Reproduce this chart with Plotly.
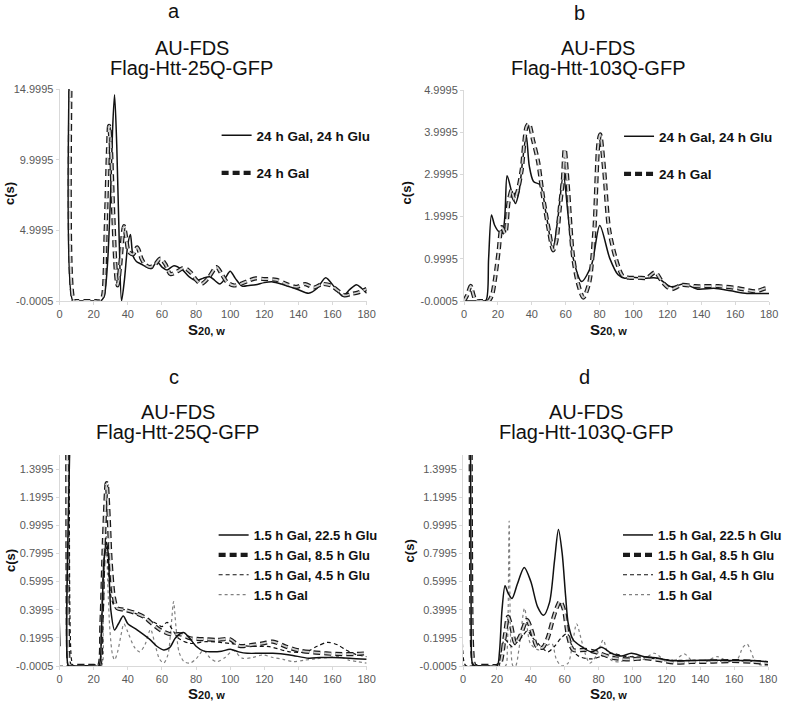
import plotly.graph_objects as go

FONT = "Liberation Sans, Arial, sans-serif"
W, H = 787, 703

# ---------------- data ----------------
x_ticks = [0, 20, 40, 60, 80, 100, 120, 140, 160, 180]
x_tick_labels = ["0", "20", "40", "60", "80", "100", "120", "140", "160", "180"]

a_yticks = [-0.0005, 4.9995, 9.9995, 14.9995]
a_ytick_labels = ["-0.0005", "4.9995", "9.9995", "14.9995"]
b_yticks = [-0.0005, 0.9995, 1.9995, 2.9995, 3.9995, 4.9995]
b_ytick_labels = ["-0.0005", "0.9995", "1.9995", "2.9995", "3.9995", "4.9995"]
cd_yticks = [-0.0005, 0.1995, 0.3995, 0.5995, 0.7995, 0.9995, 1.1995, 1.3995]
cd_ytick_labels = ["-0.0005", "0.1995", "0.3995", "0.5995", "0.7995", "0.9995", "1.1995", "1.3995"]

# panel a
a_glu_x = [7, 7.8, 10, 15, 20, 24, 26, 28, 30, 31, 32.2, 33.5, 35, 36.3, 38, 40, 41.5, 43, 45, 48,
           51, 54, 57, 60, 63, 67, 72, 76, 80, 84, 88, 91, 94, 97, 100, 103, 107, 111, 115, 120,
           125, 130, 135, 140, 146, 151, 156, 161, 166, 170, 174, 177, 180]
a_glu_y = [25, 0, 0, 0, 0, 0, 0.3, 2.5, 8, 12, 14.6, 11, 4, 0, 1.5, 4.0, 4.7, 3.2, 2.8, 2.6,
           2.4, 2.3, 2.8, 2.4, 2.2, 2.5, 2.2, 1.7, 1.45, 1.6, 1.72, 1.45, 1.2, 1.6, 2.1, 1.6, 1.05, 1.1, 1.15, 1.3,
           1.35, 1.2, 1.0, 0.8, 0.55, 0.9, 1.65, 1.0, 0.35, 0.8, 1.15, 0.9, 0.55]
a_gal_x = [7.6, 8.4, 10, 15, 20, 24, 25.5, 27, 28.3, 29, 30, 31.5, 33, 34, 35.5, 37.7, 39, 40.5, 43, 45.5,
           48, 50, 53, 56, 59, 62, 65, 69, 73, 77, 80, 83, 87, 92, 95, 98, 102, 106, 110, 115,
           120, 127, 133, 139, 144, 149, 154, 159, 163, 167, 171, 175, 180]
a_gal_y = [25, 0, 0, 0, 0, 0, 0.4, 5, 10.5, 12.4, 11, 6, 2, 1.1, 2.5, 5.3, 4.5, 3.5, 3.3, 3.8,
           3.0, 2.6, 2.4, 2.6, 3.0, 2.6, 1.9, 2.1, 2.35, 2.0, 1.5, 1.2, 1.6, 2.4, 1.9, 1.35, 1.1, 1.2, 1.4, 1.6,
           1.55, 1.5, 1.2, 1.0, 1.2, 0.95, 1.2, 1.1, 0.75, 0.4, 0.5, 0.6, 0.85]

# panel b
b_glu_x = [0, 5, 10, 13, 14.5, 16.2, 18, 20.5, 23, 25.4, 28, 30.3, 32.5, 34.5, 36.7, 38.5, 41, 45, 48.3, 52.4,
           55.5, 58.6, 61.5, 64.5, 69.4, 75.2, 80.1, 86, 90.9, 94.8, 98.7, 106.5, 114.3, 122, 130, 137.8, 147.5, 157.3, 167, 180]
b_glu_y = [0, 0, 0, 0.02, 1.0, 2.04, 1.8, 1.65, 1.7, 2.97, 2.6, 2.31, 2.6, 3.3, 3.93, 3.2, 2.83, 2.75, 2.1, 1.23,
           2.0, 3.0, 2.0, 1.0, 0.46, 0.85, 1.79, 1.01, 0.62, 0.54, 0.56, 0.54, 0.54, 0.34, 0.4, 0.28, 0.3, 0.24, 0.18, 0.18]
b_gal_x = [0, 2, 3.9, 5.5, 7, 10, 14.5, 16.6, 18.2, 20.3, 22.3, 24.3, 26.2, 28.1, 29.7, 31.6, 34, 36.9, 38.3, 40.8,
           43.7, 46.5, 50.4, 52.6, 54.4, 56.5, 58.3, 59.4, 61.2, 64.2, 67.1, 70.4, 73.9, 76.8, 79.2, 80.3, 82.7, 85.6, 89.6, 93.5,
           97.4, 103, 108, 112.8, 117, 122, 128.7, 136.5, 150, 162, 172, 178, 180]
b_gal_y = [0, 0.15, 0.36, 0.15, 0, 0, 0, 0.15, 0.5, 1.14, 1.75, 1.6, 2.32, 2.63, 2.4, 2.6, 3.1, 4.13, 4.2, 3.8,
           3.3, 2.5, 1.6, 1.2, 1.4, 2.2, 2.85, 3.6, 2.75, 1.1, 0.44, 0.08, 0.44, 1.6, 3.7, 3.95, 3.1, 1.7, 1.0, 0.6,
           0.55, 0.55, 0.55, 0.68, 0.45, 0.28, 0.38, 0.35, 0.35, 0.3, 0.23, 0.3, 0.3]

# panel c
c_g225_x = [0.2, 0.5, 4.2, 5.0, 6, 10, 15, 20, 23, 24.5, 26, 27.4, 28.5, 30, 32.2, 34.5, 37.3, 40, 45.4, 53.2,
            57, 61, 64.5, 68, 72.6, 76, 80, 84.3, 90, 95, 100, 105, 110, 118, 125, 135, 146, 153, 160, 170, 180]
c_g225_y = [0.14, 3, 3, 0.0, 0, 0, 0, 0, 0, 0.25, 0.75, 0.88, 0.8, 0.4, 0.256, 0.3, 0.355, 0.3, 0.256, 0.185,
            0.14, 0.114, 0.13, 0.2, 0.237, 0.2, 0.14, 0.107, 0.1, 0.105, 0.118, 0.1, 0.09, 0.09, 0.09, 0.078, 0.055, 0.06, 0.06, 0.055, 0.047]
c_g85_x = [4.3, 4.8, 5.2, 5.8, 7, 10, 15, 20, 23, 24.5, 26, 27.6, 28.8, 29.9, 31.8, 33.8, 37.7, 43.5, 49.3, 54.2,
           59, 64.9, 70.7, 76.5, 84.3, 92, 99.8, 105.6, 111.4, 119.2, 125, 132.8, 140.6, 150.3, 162, 173.6, 180]
c_g85_y = [3, 0.3, 0.05, 0.01, 0, 0, 0, 0, 0, 0.3, 0.9, 1.3, 1.05, 0.75, 0.49, 0.41, 0.40, 0.38, 0.35, 0.30,
           0.256, 0.225, 0.225, 0.197, 0.19, 0.185, 0.19, 0.142, 0.147, 0.16, 0.173, 0.137, 0.109, 0.095, 0.085, 0.085, 0.09]
c_g45_x = [6.3, 6.9, 8, 12, 18, 23, 24.5, 26, 27.2, 28.5, 30, 32.8, 38, 45, 52, 57, 60, 63, 66, 69.7,
           76.5, 86, 99.8, 111.4, 123, 134.8, 144.5, 151, 157, 163, 167.8, 174, 180]
c_g45_y = [3, 0.05, 0, 0, 0, 0, 0.3, 0.75, 0.85, 0.7, 0.5, 0.41, 0.4, 0.37, 0.33, 0.30, 0.28, 0.31, 0.26, 0.197,
           0.16, 0.173, 0.16, 0.14, 0.137, 0.10, 0.10, 0.14, 0.168, 0.15, 0.114, 0.08, 0.066]
c_gal_x = [0, 10, 20, 24.5, 25.5, 26.5, 27.2, 28.2, 29.5, 31, 32.2, 34, 36, 37.7, 40, 44, 47, 50, 53.3, 56,
           58.5, 61, 63.5, 65.5, 66.8, 68.2, 70, 73, 76.5, 80, 84.3, 88, 92, 97, 101.8, 107, 113, 119, 125, 131,
           137, 143, 150, 157, 164, 170, 175, 180]
c_gal_y = [0, 0, 0, 0, 0.3, 0.8, 0.95, 0.6, 0.25, 0.08, 0.043, 0.1, 0.22, 0.30, 0.24, 0.13, 0.10, 0.15, 0.26, 0.15,
           0.05, 0.02, 0.08, 0.3, 0.457, 0.28, 0.1, 0.03, 0.02, 0.05, 0.11, 0.06, 0.03, 0.06, 0.11, 0.055, 0.06, 0.078, 0.06, 0.047,
           0.03, 0.04, 0.05, 0.06, 0.066, 0.04, 0.03, 0.02]

# panel d
d_g225_x = [4.0, 4.8, 5.5, 7, 10, 15, 20.1, 21.5, 23, 24.8, 26.5, 28.9, 32, 36.1, 40, 44, 47.5, 51, 54, 56.3,
            58.5, 60.5, 62.1, 65, 70, 75.8, 81.7, 87.5, 93.4, 99.3, 107, 114.9, 122.7, 134.4, 146, 157.9, 169.6, 180]
d_g225_y = [3, 0.3, 0.02, 0, 0, 0, 0, 0.1, 0.4, 0.57, 0.52, 0.48, 0.58, 0.70, 0.6, 0.42, 0.36, 0.45, 0.75, 0.97,
            0.8, 0.5, 0.30, 0.185, 0.137, 0.10, 0.133, 0.09, 0.07, 0.09, 0.066, 0.055, 0.038, 0.038, 0.043, 0.038, 0.038, 0.03]
d_g85_x = [4.3, 5.0, 5.5, 6.2, 7, 10, 15, 20, 22, 24.5, 26.6, 28.5, 30.9, 34, 37.7, 40.5, 43.6, 47, 50, 53,
           55.5, 57.3, 59.5, 62, 65, 72, 77.8, 81.7, 89.5, 99.3, 107, 115, 124.7, 134.4, 146, 158, 170, 180]
d_g85_y = [3, 0.3, 0.1, 0.02, 0, 0, 0, 0, 0.02, 0.2, 0.35, 0.28, 0.16, 0.22, 0.327, 0.25, 0.137, 0.13, 0.2, 0.33,
           0.42, 0.46, 0.4, 0.21, 0.114, 0.114, 0.10, 0.085, 0.055, 0.047, 0.055, 0.043, 0.024, 0.028, 0.03, 0.035, 0.03, 0.02]
d_g45_x = [0.3, 0.7, 2, 8, 15, 21, 22.5, 24.5, 27, 29, 32, 35, 38, 41, 45, 50, 54, 58, 61.5, 64,
           67, 70, 76, 82, 88, 95, 105, 115, 125, 135, 150, 165, 180]
d_g45_y = [3, 0.02, 0, 0, 0, 0, 0.1, 0.19, 0.16, 0.137, 0.17, 0.21, 0.25, 0.2, 0.15, 0.10, 0.14, 0.2, 0.23, 0.15,
           0.08, 0.06, 0.05, 0.07, 0.09, 0.07, 0.06, 0.05, 0.04, 0.04, 0.035, 0.035, 0.03]
d_gal_x = [0, 10, 20, 25, 26.2, 27.2, 28.2, 29.5, 31, 33, 36.3, 39.7, 44.5, 48.5, 52.4, 55, 58, 62, 64.5, 67,
           69.5, 72, 74.8, 79, 82.7, 85, 87.5, 93, 99, 105, 113, 120, 125, 130.5, 136, 143, 150, 157, 162, 165,
           167.6, 170, 173, 180]
d_gal_y = [0, 0, 0, 0, 0.15, 1.03, 0.15, 0, 0, 0.12, 0.41, 0.16, 0.114, 0.137, 0.16, 0.05, 0, 0.02, 0.15, 0.30,
           0.2, 0.09, 0.02, 0.08, 0.185, 0.1, 0.04, 0.03, 0.07, 0.04, 0.09, 0.03, 0.04, 0.085, 0.03, 0.03, 0.066, 0.03, 0.05, 0.13,
           0.156, 0.1, 0.02, 0]

names_ab = ["24 h Gal, 24 h Glu", "24 h Gal"]
names_cd = ["1.5 h Gal, 22.5 h Glu", "1.5 h Gal, 8.5 h Glu", "1.5 h Gal, 4.5 h Glu", "1.5 h Gal"]


# ---------------- helpers ----------------
def px_x(x):
    return x / W


def px_y(y):
    return 1 - y / H


fig = go.Figure()

SOLID = dict(color="#111111", width=1.5)
OUTER = dict(color="#1a1a1a", width=4.2, dash="7px,4px")
INNER = dict(color="#cfcfcf", width=1.8, dash="7px,4px")
THIN_DASH = dict(color="#111111", width=1.2, dash="4px,3px")
DOT = dict(color="#808080", width=1.2, dash="dot")


def add(x, y, line, name, ax, legend, rank, show=True, smoothing=0.8):
    fig.add_trace(go.Scatter(x=x, y=y, mode="lines", line=dict(shape="spline", smoothing=smoothing, **line),
                             name=name, xaxis="x" + ax, yaxis="y" + ax, legend=legend, showlegend=show,
                             legendgroup=name + ax, legendrank=rank, hoverinfo="skip"))


def add_outlined(x, y, name, ax, legend, rank):
    add(x, y, OUTER, name, ax, legend, rank, show=True)
    add(x, y, INNER, name, ax, legend, rank, show=False)


# panel a (axis suffix "")
add(a_glu_x, a_glu_y, SOLID, names_ab[0], "", "legend", 1)
add_outlined(a_gal_x, a_gal_y, names_ab[1], "", "legend", 2)
# panel b
add(b_glu_x, b_glu_y, SOLID, names_ab[0], "2", "legend2", 1)
add_outlined(b_gal_x, b_gal_y, names_ab[1], "2", "legend2", 2)
# panel c
add(c_gal_x, c_gal_y, DOT, names_cd[3], "3", "legend3", 4)
add(c_g45_x, c_g45_y, THIN_DASH, names_cd[2], "3", "legend3", 3)
add_outlined(c_g85_x, c_g85_y, names_cd[1], "3", "legend3", 2)
add(c_g225_x, c_g225_y, SOLID, names_cd[0], "3", "legend3", 1)
# panel d
add(d_gal_x, d_gal_y, DOT, names_cd[3], "4", "legend4", 4)
add(d_g45_x, d_g45_y, THIN_DASH, names_cd[2], "4", "legend4", 3)
add_outlined(d_g85_x, d_g85_y, names_cd[1], "4", "legend4", 2)
add(d_g225_x, d_g225_y, SOLID, names_cd[0], "4", "legend4", 1)

tickfont = dict(family=FONT, size=11, color="#595959")


def xaxis(l, r, anchor):
    return dict(domain=[px_x(l), px_x(r)], range=[0, 180], tickvals=x_ticks, ticktext=x_tick_labels,
                showline=True, linecolor="#d9d9d9", linewidth=1, ticks="outside", ticklen=3,
                tickcolor="#d9d9d9", tickfont=tickfont, showgrid=False, zeroline=False, anchor=anchor,
                fixedrange=True, automargin=False)


def yaxis(t, b, rng, tv, tt, anchor):
    return dict(domain=[px_y(b), px_y(t)], range=rng, tickvals=tv, ticktext=tt,
                showline=True, linecolor="#d9d9d9", linewidth=1, ticks="outside", ticklen=3,
                tickcolor="#d9d9d9", tickfont=tickfont, showgrid=False, zeroline=False, anchor=anchor,
                fixedrange=True, automargin=False)


def legend(x, y, gap, size):
    return dict(x=px_x(x), y=px_y(y), xanchor="left", yanchor="top", bgcolor="rgba(0,0,0,0)",
                font=dict(family=FONT, size=size, color="#111111", weight="bold"),
                traceorder="grouped", tracegroupgap=gap, itemwidth=30, borderwidth=0)


annotations = []


def text(x, y, s, size=20, bold=False, angle=0, color="#111111"):
    annotations.append(dict(x=px_x(x), y=px_y(y), xref="paper", yref="paper", text=s, showarrow=False,
                            textangle=angle, xanchor="center", yanchor="middle",
                            font=dict(family=FONT, size=size, color=color,
                                      weight="bold" if bold else "normal")))


for (lx, ly, cx, t1y, t2y, title2, ax_x, ylab_x, ylab_y, xlab_y, tx) in [
    (175, 11, 193, 48, 68, "Flag-Htt-25Q-GFP", 208, 10, 193, 329, "a"),
    (583, 13, 602, 48, 68, "Flag-Htt-103Q-GFP", 612, 410, 193, 329, "b"),
    (175, 377, 179, 412, 432, "Flag-Htt-25Q-GFP", 208, 10, 560, 693, "c"),
    (588, 377, 590, 412, 432, "Flag-Htt-103Q-GFP", 612, 412, 551, 693, "d"),
]:
    text(lx, ly, tx, size=20)
    text(cx, t1y, "AU-FDS", size=20)
    text(cx, t2y, title2, size=20)
    text(ylab_x, ylab_y, "c(s)", size=13, bold=True, angle=-90)
    text(ax_x, xlab_y, "S<span style='font-size:11px'>20, w</span>", size=15, bold=True)

fig.update_layout(
    width=W, height=H, autosize=False,
    margin=dict(l=0, r=0, t=0, b=0, pad=0),
    paper_bgcolor="white", plot_bgcolor="white",
    xaxis=xaxis(60, 369, "y"),
    yaxis=yaxis(89, 301, [-0.0005, 14.9995], a_yticks, a_ytick_labels, "x"),
    xaxis2=xaxis(467, 774, "y2"),
    yaxis2=yaxis(90, 301, [-0.0005, 4.9995], b_yticks, b_ytick_labels, "x2"),
    xaxis3=xaxis(60, 369, "y3"),
    yaxis3=yaxis(455, 666, [-0.0005, 1.4995], cd_yticks, cd_ytick_labels, "x3"),
    xaxis4=xaxis(466, 773, "y4"),
    yaxis4=yaxis(455, 666, [-0.0005, 1.4995], cd_yticks, cd_ytick_labels, "x4"),
    legend=legend(218, 120, 17, 13.5),
    legend2=legend(623, 121, 17, 13.5),
    legend3=legend(215, 520, 0, 13),
    legend4=legend(622, 520, 0, 13),
    annotations=annotations,
    showlegend=True,
)

fig.write_html(
    "out.html",
    config={"displayModeBar": False},
    post_script="document.body.style.margin='0';document.body.style.overflow='hidden';",
)
